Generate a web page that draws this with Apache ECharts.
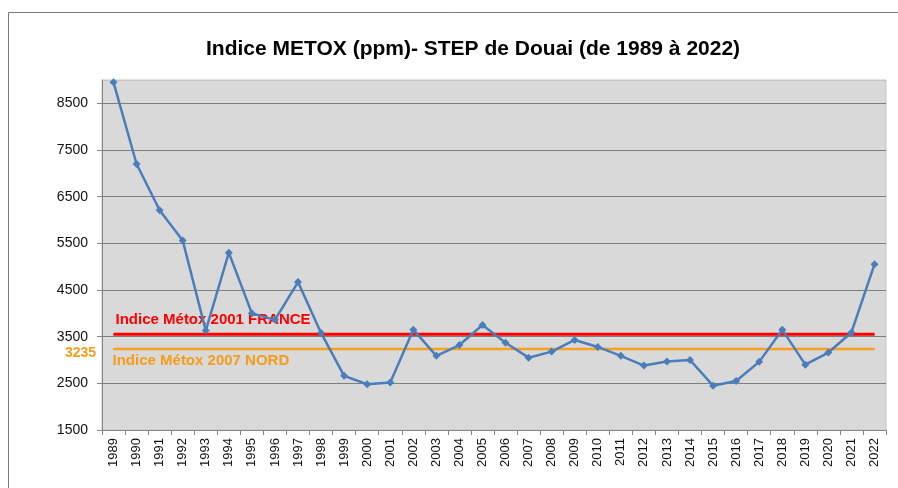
<!DOCTYPE html>
<html>
<head>
<meta charset="utf-8">
<script src="https://cdn.jsdelivr.net/npm/echarts@6/dist/echarts.min.js"></script>
<style>
html,body{margin:0;padding:0;background:#fff;}
#chart{width:898px;height:488px;}
</style>
</head>
<body>
<div id="chart"></div>
<script>
var years = ['1989','1990','1991','1992','1993','1994','1995','1996','1997','1998','1999','2000','2001','2002','2003','2004','2005','2006','2007','2008','2009','2010','2011','2012','2013','2014','2015','2016','2017','2018','2019','2020','2021','2022'];
var metox = [8950,7200,6210,5560,3630,5300,4000,3860,4670,3580,2660,2480,2520,3650,3090,3320,3750,3370,3050,3180,3430,3280,3090,2880,2970,3000,2450,2550,2960,3650,2900,3160,3590,5050];
var franceRef = 3550;
var nordRef = 3235;
var franceLabel = 'Indice Métox 2001 FRANCE';
var nordLabel = 'Indice Métox 2007 NORD';
var titleText = 'Indice METOX (ppm)- STEP de Douai (de 1989 à 2022)';

var FONT = 'Liberation Sans, Arial, sans-serif';
var franceData = years.map(function(y, i){
  var d = {value: franceRef};
  if (i === 0) d.label = {show: true, position: 'top', align: 'left', distance: 6, offset: [2, 0], formatter: franceLabel,
    color: '#ff0000', fontWeight: 'bold', fontSize: 15, fontFamily: FONT};
  return d;
});
var nordData = years.map(function(y, i){
  var d = {value: nordRef};
  if (i === 0) d.label = {show: true, position: 'bottom', align: 'left', distance: 4, offset: [-1, 0], formatter: nordLabel,
    color: '#f59c1a', fontWeight: 'bold', fontSize: 15, fontFamily: FONT};
  return d;
});
var nordValueData = years.map(function(y, i){
  var d = {value: nordRef};
  if (i === 0) d.label = {show: true, position: 'left', distance: 17, offset: [0, 4], formatter: String(nordRef),
    color: '#f59c1a', fontWeight: 'bold', fontSize: 14, fontFamily: FONT};
  return d;
});

var chart = echarts.init(document.getElementById('chart'), null, {renderer: 'canvas'});
chart.setOption({
  animation: false,
  backgroundColor: '#ffffff',
  title: {
    text: titleText,
    left: 201,
    top: 34,
    textStyle: {fontSize: 21, fontWeight: 'bold', color: '#000', fontFamily: FONT}
  },
  graphic: [{
    type: 'rect', silent: true, z: 0,
    shape: {x: 8.5, y: 12.5, width: 1000, height: 1000},
    style: {fill: null, stroke: '#7a7a7a', lineWidth: 1}
  }],
  grid: {
    left: 102, right: 12, top: 80, bottom: 58,
    show: true, backgroundColor: '#d9d9d9', borderColor: '#c4c4c4', borderWidth: 1
  },
  xAxis: {
    type: 'category',
    data: years,
    boundaryGap: true,
    axisLine: {lineStyle: {color: '#868686', width: 1}},
    axisTick: {show: true, alignWithLabel: false, length: 5, lineStyle: {color: '#868686'}},
    axisLabel: {rotate: 90, interval: 0, margin: 8, fontSize: 13, color: '#111', fontFamily: FONT},
    splitLine: {show: false}
  },
  yAxis: {
    type: 'value',
    min: 1500, max: 9000, interval: 1000,
    axisLine: {show: true, lineStyle: {color: '#868686', width: 1}},
    axisTick: {show: true, length: 5, lineStyle: {color: '#868686'}},
    axisLabel: {showMaxLabel: false, margin: 14, fontSize: 14, color: '#111', fontFamily: FONT,
      formatter: function(v){ return String(v); }},
    splitLine: {show: true, lineStyle: {color: ['#7f7f7f','#7f7f7f','#7f7f7f','#7f7f7f','#7f7f7f','#7f7f7f','#7f7f7f','#7f7f7f','#c4c4c4'], width: 1}}
  },
  series: [
    {
      name: 'nordValue', type: 'line', data: nordValueData, z: 1,
      symbol: 'circle', symbolSize: 1, showSymbol: true,
      itemStyle: {color: '#f7a11e'},
      lineStyle: {width: 0, opacity: 0}, silent: true
    },
    {
      name: 'nord', type: 'line', data: nordData, z: 2,
      symbol: 'circle', symbolSize: 1, showSymbol: true,
      itemStyle: {color: '#f7a11e'},
      lineStyle: {color: '#f7a11e', width: 2.5}, silent: true
    },
    {
      name: 'france', type: 'line', data: franceData, z: 3,
      symbol: 'circle', symbolSize: 1, showSymbol: true,
      itemStyle: {color: '#ff0000'},
      lineStyle: {color: '#ff0000', width: 3}, silent: true
    },
    {
      name: 'METOX', type: 'line', data: metox, z: 4,
      symbol: 'diamond', symbolSize: 8,
      itemStyle: {color: '#4a7ebb'},
      lineStyle: {color: '#4a7ebb', width: 2.5}
    }
  ]
});
</script>
</body>
</html>
